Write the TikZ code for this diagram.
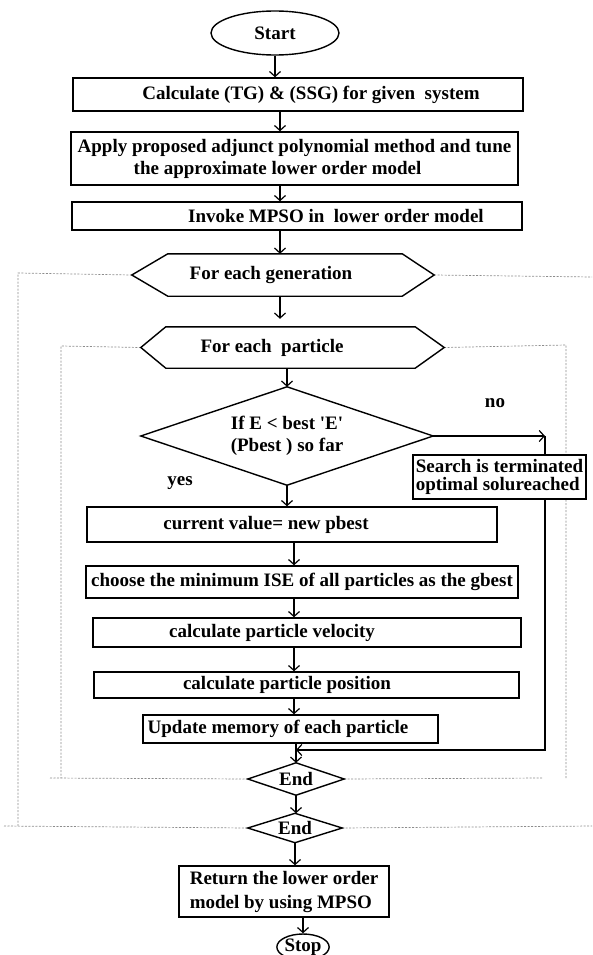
\documentclass[tikz,border=0pt]{standalone}
\usepackage{fontspec}
\setmainfont{Liberation Serif}
\usetikzlibrary{arrows.meta,calc,shapes.geometric,backgrounds}
\begin{document}
\begin{tikzpicture}[x=1pt,y=-1pt,
  every node/.style={font=\fontsize{19}{22}\selectfont\bfseries, inner sep=0pt},
  box/.style={draw, line width=1.4pt, fill=white},
  outl/.style={line width=1.4pt},
  arr/.style={line width=1.2pt, -{Straight Barb[length=5pt,width=11pt]}},
  lin/.style={line width=1.2pt},
  dsh/.style={line width=0.7pt, black!45, dash pattern=on 2pt off 1.5pt}]
\useasboundingbox (0,0) rectangle (592,955);
\coordinate (sA) at (280,0);
\coordinate (sB) at (294,0);
\coordinate (nc) at (545,0);
\coordinate (jn) at (296,750);

% nodes
\node[draw, ellipse, line width=1.4pt, minimum width=128pt, minimum height=44pt] (start) at (275,33) {Start};
\node[box, minimum width=450pt, minimum height=33pt] (b1) at (298,94.5) {\hspace*{26pt}Calculate (TG) \& (SSG) for given\ \ system};
\node[box, minimum width=447pt, minimum height=53pt, align=left] (b2) at (294.5,158.5) {Apply proposed adjunct polynomial method and tune\\\hspace*{56pt}the approximate lower order model};
\node[box, minimum width=450pt, minimum height=28pt] (b3) at (297,216) {\hspace*{78pt}Invoke MPSO in\ \ lower order model};
\node[minimum width=302pt, minimum height=42pt] (h1) at (283,275) {For each generation\hspace*{24pt}};
\node[minimum width=303pt, minimum height=41pt] (h2) at (292.5,347.5) {For each\ \ particle\hspace*{41pt}};
\node[minimum width=292pt, minimum height=98pt, align=center] (d) at (287,436) {If E < best \textquotesingle E\textquotesingle\\(Pbest ) so far};
\node[box, minimum width=173pt, minimum height=44pt, align=left, font=\fontsize{19}{18}\selectfont\bfseries] (srch) at (499.5,477) {Search is terminated\\optimal solureached};
\node (yes) at (180,483) {yes};
\node (no) at (495,403) {no};
\node[box, minimum width=410pt, minimum height=35pt] (cur) at (292,524.5) {current value= new pbest\hspace*{52pt}};
\node[box, minimum width=432pt, minimum height=32pt] (cho) at (302,582) {choose the minimum ISE of all particles as the gbest};
\node[box, minimum width=428pt, minimum height=29pt] (vel) at (307,632.5) {calculate particle velocity\hspace*{70pt}};
\node[box, minimum width=425pt, minimum height=26pt] (pos) at (306.5,685) {calculate particle position\hspace*{39pt}};
\node[box, minimum width=295pt, minimum height=28pt] (upd) at (290.5,729) {Update memory of each particle\hspace*{25pt}};
\node[minimum width=96pt, minimum height=32pt] (e1) at (296,779) {End};
\node[minimum width=94pt, minimum height=29pt] (e2) at (295,828) {End};
\node[box, minimum width=210pt, minimum height=51pt, align=left, font=\fontsize{19}{24}\selectfont\bfseries] (ret) at (284,891.5) {Return the lower order\\model by using MPSO};
\node[draw, ellipse, line width=1.4pt, minimum width=52pt, minimum height=26pt] (stop) at (303,947) {Stop};

% shapes drawn from node anchors
\draw[outl] (h1.west) -- ([xshift=36pt]h1.north west) -- ([xshift=-32pt]h1.north east) -- (h1.east) -- ([xshift=-32pt]h1.south east) -- ([xshift=36pt]h1.south west) -- cycle;
\draw[outl] (h2.west) -- ([xshift=25pt]h2.north west) -- ([xshift=-29pt]h2.north east) -- (h2.east) -- ([xshift=-29pt]h2.south east) -- ([xshift=25pt]h2.south west) -- cycle;
\draw[outl] (d.north) -- (d.east) -- (d.south) -- (d.west) -- cycle;
\draw[outl] (e1.north) -- (e1.east) -- (e1.south) -- (e1.west) -- cycle;
\draw[outl] (e2.north) -- (e2.east) -- (e2.south) -- (e2.west) -- cycle;

% connectors
\draw[arr] (start.south) -- (start.south |- b1.north);
\draw[arr] (b1.south -| sA) -- (b2.north -| sA);
\draw[arr] (b2.south -| sA) -- (b3.north -| sA);
\draw[arr] (b3.south -| sA) -- (h1.north -| sA);
\draw[arr] (h1.south -| sA) -- ([yshift=8pt]h2.north -| sA);
\draw[arr] (d.north |- h2.south) -- (d.north);
\draw[arr] (d.south) -- (d.south |- cur.north);
\draw[arr] (cur.south -| sB) -- (cho.north -| sB);
\draw[arr] (cho.south -| sB) -- (vel.north -| sB);
\draw[arr] (vel.south -| sB) -- (pos.north -| sB);
\draw[arr] (pos.south -| sB) -- (upd.north -| sB);
\draw[arr] (upd.south -| e1) -- (e1.north);
\draw[arr] (e1.south) -- (e1.south |- e2.north);
\draw[arr] (e2.south) -- (e2.south |- ret.north);
\draw[arr] (ret.south -| stop) -- (stop.north);
\draw[arr] (d.east) -- (d.east -| nc);
\draw[lin] (d.east -| nc) -- (srch.north -| nc);
\draw[arr] (srch.south -| nc) -- (nc |- jn) -- (jn);

% dashed loop frames
\begin{pgfonlayer}{background}
\coordinate (o1) at (18,273);
\coordinate (o2) at (18,826);
\coordinate (o3) at (592,277);
\coordinate (o4) at (4,826);
\coordinate (o5) at (592,826);
\coordinate (i1) at (61,346);
\coordinate (i2) at (61,778);
\coordinate (i3) at (566,345);
\coordinate (i4) at (566,778);
\coordinate (i5) at (50,778);
\coordinate (i6) at (543,778);
\draw[dsh] (h1.west) -- (o1) -- (o2);
\draw[dsh] (h1.east) -- (o3);
\draw[dsh] (o4) -- (e2.west);
\draw[dsh] (e2.east) -- (o5);
\draw[dsh] (h2.west) -- (i1) -- (i2);
\draw[dsh] (h2.east) -- (i3) -- (i4);
\draw[dsh] (i5) -- (e1.west);
\draw[dsh] (e1.east) -- (i6);
\end{pgfonlayer}
\end{tikzpicture}
\end{document}
